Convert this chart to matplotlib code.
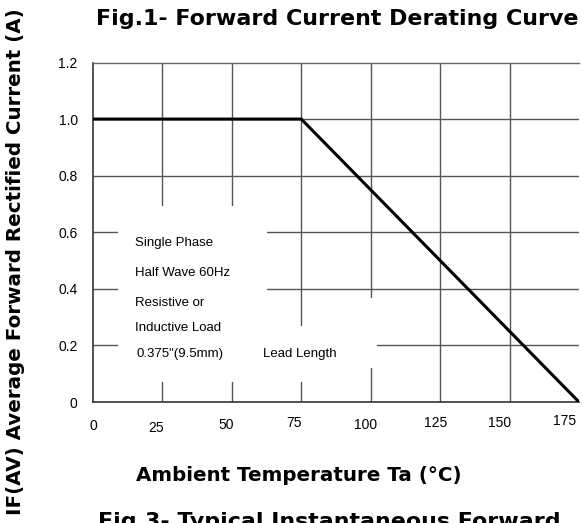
import matplotlib
matplotlib.use("Agg")
import matplotlib.pyplot as plt
from matplotlib.patches import Rectangle
from matplotlib.transforms import ScaledTranslation

# derating curve: ambient temperature (C) vs average forward current (A)
temp = [0, 75, 175]
current = [1.0, 1.0, 0.0]

x_ticks = [0, 25, 50, 75, 100, 125, 150, 175]
y_ticks = [0, 0.2, 0.4, 0.6, 0.8, 1.0, 1.2]
y_tick_labels = ["0", "0.2", "0.4", "0.6", "0.8", "1.0", "1.2"]

notes = ["Single Phase", "Half Wave 60Hz", "Resistive or", "Inductive Load"]
note_y = [0.563, 0.457, 0.350, 0.262]

plt.rcParams['font.family'] = ['Liberation Sans', 'DejaVu Sans']

fig = plt.figure(figsize=(5.83, 5.23), dpi=100)
ax = fig.add_axes([93/583, 121/523, 486/583, 339.5/523])

ax.set_xlim(0, 175)
ax.set_ylim(0, 1.2)

# grid (drawn by hand, the datasheet has gaps behind the notes)
for xv in x_ticks[1:-1]:
    ax.axvline(xv, color='#555555', lw=1.0, zorder=1)
for yv in y_ticks[1:-1]:
    ax.axhline(yv, color='#555555', lw=1.0, zorder=1)

# white areas behind the text block
for (x0, y0, w, h) in [(9.0, 0.071, 53.6, 0.623),
                       (62.6, 0.071, 36.4, 0.198),
                       (99.0, 0.120, 3.2, 0.248)]:
    ax.add_patch(Rectangle((x0, y0), w, h, facecolor='white',
                           edgecolor='none', zorder=1.5))

ax.plot(temp, current, color='black', lw=2.2, zorder=3,
        solid_capstyle='butt', solid_joinstyle='miter')

for txt, yy in zip(notes, note_y):
    ax.text(15.1, yy, txt, fontsize=9.5, va='center', ha='left', zorder=4)
ax.text(15.8, 0.170, '0.375"(9.5mm)', fontsize=9.5, va='center', ha='left', zorder=4)
ax.text(61.2, 0.170, 'Lead Length', fontsize=9.5, va='center', ha='left', zorder=4)

ax.spines['right'].set_visible(False)
ax.spines['top'].set_color('#666666')
ax.spines['top'].set_linewidth(1.0)
for s in ['left', 'bottom']:
    ax.spines[s].set_color('#333333')
    ax.spines[s].set_linewidth(1.2)

ax.set_yticks(y_ticks)
ax.set_yticklabels(y_tick_labels)
ax.set_xticks(x_ticks)
ax.set_xticklabels([str(v) for v in x_ticks])
ax.tick_params(axis='both', length=0, labelsize=10)
ax.tick_params(axis='y', pad=11)
ax.tick_params(axis='x', pad=12.5)

# the scanned labels are a bit uneven
dx = [0, -6.7, -6, -7.7, -5, -5, -10, -14]
dy = [0, 2, -1, -3, -1, -3, -3, -5]
for lab, ox, oy in zip(ax.get_xticklabels(), dx, dy):
    lab.set_transform(lab.get_transform() +
                      ScaledTranslation(ox/100, -oy/100, fig.dpi_scale_trans))

bold = dict(family='DejaVu Sans', fontweight='bold')
fig.text(96/583, 1 - 25/523, 'Fig.1- Forward Current Derating Curve',
         fontsize=15.9, ha='left', va='baseline', **bold)
fig.text(298.5/583, 1 - 481/523, 'Ambient Temperature Ta (°C)',
         fontsize=14.3, ha='center', va='baseline', **bold)
fig.text(16/583, 1 - 262/523, 'IF(AV) Average Forward Rectified Current (A)',
         fontsize=14.3, rotation=90, ha='center', va='center', **bold)
fig.text(98/583, 1 - 528/523, 'Fig.3- Typical Instantaneous Forward',
         fontsize=15.9, ha='left', va='baseline', **bold)

fig.savefig('out.png', dpi=100)
